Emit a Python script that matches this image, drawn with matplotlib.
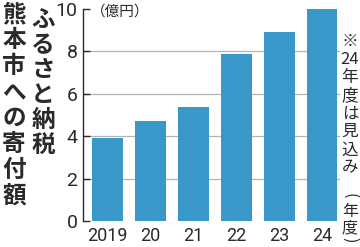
import re
import matplotlib
matplotlib.use('Agg')
import matplotlib.pyplot as plt
from matplotlib import font_manager as fm

# ---- data ----
years = ['2019', '20', '21', '22', '23', '24']
values = [3.9, 4.7, 5.4, 7.9, 8.9, 10.1]
yticks = [0, 2, 4, 6, 8, 10]
title_col1 = 'ふるさと納税'
title_col2 = '熊本市への寄付額'
unit_label = '（億円）'
note = '※24年度は見込み'
xunit = '(年度)'

W, H = 360, 247
DPI = 100
fig = plt.figure(figsize=(W / DPI, H / DPI), dpi=DPI)
fig.patch.set_facecolor('white')

names = {f.name for f in fm.fontManager.ttflist}
num_font = 'Liberation Sans Narrow' if 'Liberation Sans Narrow' in names else 'Roboto'
jp = 'Noto Sans CJK JP'
txt = '#2a2a2a'
bar_color = '#3a97c9'

ax = fig.add_axes([83 / W, 26 / H, 257 / W, 212 / H])
x = list(range(len(years)))
ax.bar(x, values, width=0.72, color=bar_color, zorder=2)
ax.set_xlim(-0.57, 5.42)
ax.set_ylim(0, 10)
for s in ['top', 'right', 'bottom']:
    ax.spines[s].set_visible(False)
ax.spines['left'].set_color(txt)
ax.spines['left'].set_linewidth(1.0)
ax.set_yticks(yticks)
ax.set_yticklabels([str(v) for v in yticks], family=num_font, color=txt)
ax.set_xticks(x)
ax.set_xticklabels(years, family=num_font, color=txt)
ax.tick_params(axis='y', direction='in', length=5, width=1.0, color=txt,
               pad=4, labelsize=14)
ax.tick_params(axis='x', length=0, pad=4, labelsize=13)
ax.set_axisbelow(True)
ax.yaxis.grid(True, color='#b3b3b3', linewidth=0.9)
gl = ax.yaxis.get_gridlines()
gl[0].set_visible(False)
gl[-1].set_visible(False)

# unit label
fig.text(91 / W, 1 - 12 / H, unit_label, family=jp, fontsize=10.5, color=txt,
         ha='left', va='center')


def vertical(tokens, xc, ycs, size, weight='normal'):
    em = size * DPI / 72.0
    for tok, yc in zip(tokens, ycs):
        if tok in '()':
            fig.text(xc / W, 1 - yc / H, tok, family=jp, fontsize=size,
                     color=txt, rotation=-90, rotation_mode='anchor',
                     ha='center', va='center')
        else:
            fig.text(xc / W, 1 - (yc + 0.38 * em) / H, tok, family=jp,
                     fontsize=size, weight=weight, color=txt,
                     ha='center', va='baseline')


# title columns
t1 = list(title_col1)
vertical(t1, 43, [18 + i * 25.0 for i in range(len(t1))], 17, 'bold')
t2 = list(title_col2)
vertical(t2, 14, [12.5 + i * 25.9 for i in range(len(t2))], 17, 'bold')

# note (with tate-chu-yoko digits)
nt = re.findall(r'\d+|.', note)
vertical(nt, 350, [40 + i * 18.0 for i in range(len(nt))], 12)

# x unit
xu = list(xunit)
vertical(xu, 350, [196, 210, 226, 240], 11.5)

fig.savefig('out.png', dpi=DPI, facecolor='white')
